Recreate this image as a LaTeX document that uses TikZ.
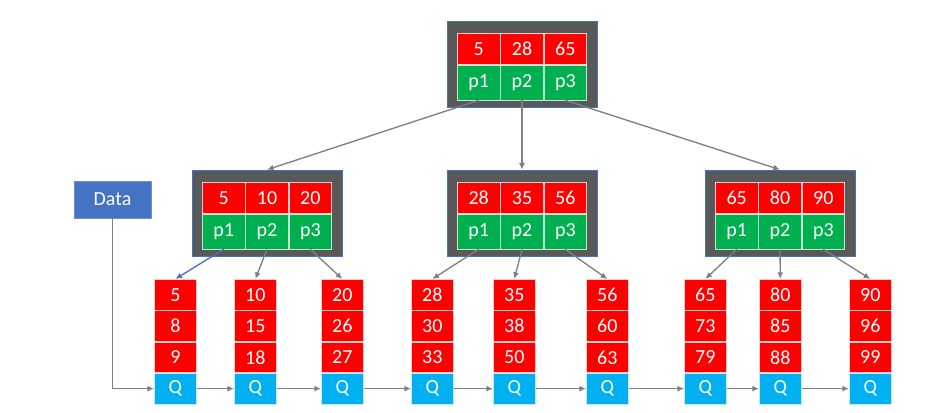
\documentclass[tikz,border=0pt]{standalone}
\usepackage{fontspec}
\setmainfont{Carlito}
\usetikzlibrary{arrows.meta, positioning, fit, backgrounds}
\definecolor{keyred}{RGB}{255,0,0}
\definecolor{ptrgreen}{RGB}{0,176,80}
\definecolor{qblue}{RGB}{0,176,240}
\definecolor{framegray}{RGB}{89,89,89}
\definecolor{datablue}{RGB}{68,114,196}
\definecolor{linegray}{RGB}{127,127,127}

\begin{document}
\begin{tikzpicture}[
    x=0.75pt, y=-0.75pt,
    font=\fontsize{15}{17}\selectfont,
    cell/.style={draw=white!80!red, line width=0.5pt, text=white, inner sep=0pt, minimum width=32pt},
    keycell/.style={cell, fill=keyred, minimum height=23.25pt},
    ptrcell/.style={cell, fill=ptrgreen, draw=white!75!ptrgreen, minimum height=26.25pt},
    leafcell/.style={cell, fill=keyred, minimum width=31.5pt, minimum height=23pt},
    qcell/.style={leafcell, fill=qblue, draw=white!75!qblue},
    nodebox/.style={draw=datablue, line width=0.5pt, fill=framegray, inner xsep=7.5pt, inner ysep=7pt, yshift=2pt},
    datanode/.style={draw=datablue!80!white, fill=datablue, text=white, minimum width=57.75pt, minimum height=27.75pt},
    arrow/.style={-{Latex[length=5pt, width=4.5pt]}, line width=1pt, linegray}
]
\useasboundingbox (0,0) rectangle (949,413);

% root
\node[keycell, anchor=north west] (r5) at (457,33) {5};
\node[keycell, right=0pt of r5] (r28) {28};
\node[keycell, right=0pt of r28] (r65) {65};
\node[ptrcell, below=0pt of r5] (rp1) {p1};
\node[ptrcell, below=0pt of r28] (rp2) {p2};
\node[ptrcell, below=0pt of r65] (rp3) {p3};

% second level
\node[keycell, anchor=north west] (a5) at (202,182) {5};
\node[keycell, right=0pt of a5] (a10) {10};
\node[keycell, right=0pt of a10] (a20) {20};
\node[ptrcell, below=0pt of a5] (ap1) {p1};
\node[ptrcell, below=0pt of a10] (ap2) {p2};
\node[ptrcell, below=0pt of a20] (ap3) {p3};

\node[keycell, anchor=north west] (b28) at (457,182) {28};
\node[keycell, right=0pt of b28] (b35) {35};
\node[keycell, right=0pt of b35] (b56) {56};
\node[ptrcell, below=0pt of b28] (bp1) {p1};
\node[ptrcell, below=0pt of b35] (bp2) {p2};
\node[ptrcell, below=0pt of b56] (bp3) {p3};

\node[keycell, anchor=north west] (c65) at (715,182) {65};
\node[keycell, right=0pt of c65] (c80) {80};
\node[keycell, right=0pt of c80] (c90) {90};
\node[ptrcell, below=0pt of c65] (cp1) {p1};
\node[ptrcell, below=0pt of c80] (cp2) {p2};
\node[ptrcell, below=0pt of c90] (cp3) {p3};

\begin{scope}[on background layer]
\node[nodebox, fit=(r5)(rp3)] (rootbox) {};
\node[nodebox, fit=(a5)(ap3)] (abox) {};
\node[nodebox, fit=(b28)(bp3)] (bbox) {};
\node[nodebox, fit=(c65)(cp3)] (cbox) {};
\end{scope}

% leaves
\foreach \n/\x/\a/\b/\c in {1/154/5/8/9, 2/234/10/15/18, 3/321/20/26/27,
    4/411/28/30/33, 5/493/35/38/50, 6/586/56/60/63,
    7/684/65/73/79, 8/759/80/85/88, 9/849/90/96/99} {
  \node[leafcell, anchor=north west] (l\n) at (\x,279) {\a};
  \node[leafcell, below=0pt of l\n] (l\n-2) {\b};
  \node[leafcell, below=0pt of l\n-2] (l\n-3) {\c};
  \node[qcell, below=0pt of l\n-3] (q\n) {Q};
}

\node[datanode] (data) at (112.5,199.5) {Data};

\draw[arrow] (rp1.south) -- (abox.north);
\draw[arrow] (rp2.south) -- (bbox.north);
\draw[arrow] (rp3.south) -- (cbox.north);

\draw[arrow, datablue] (ap1.south) -- (l1.north);
\draw[arrow] (ap2.south) -- (l2.north);
\draw[arrow] (ap3.south) -- (l3.north);
\draw[arrow] (bp1.south) -- (l4.north);
\draw[arrow] (bp2.south) -- (l5.north);
\draw[arrow] (bp3.south) -- (l6.north);
\draw[arrow] (cp1.south) -- (l7.north);
\draw[arrow] (cp2.south) -- (l8.north);
\draw[arrow] (cp3.south) -- (l9.north);

\draw[arrow] (data.south) |- (q1.west);
\foreach \i/\j in {1/2, 2/3, 3/4, 4/5, 5/6, 6/7, 7/8, 8/9}
  \draw[arrow] (q\i) -- (q\j);
\end{tikzpicture}
\end{document}
